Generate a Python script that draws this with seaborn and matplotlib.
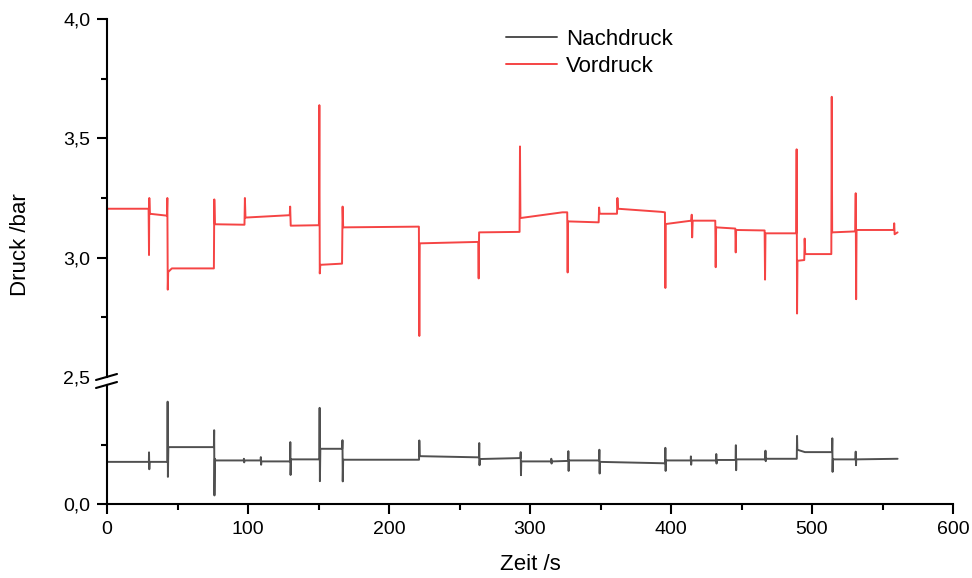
import matplotlib
matplotlib.use("Agg")
import matplotlib.pyplot as plt
from matplotlib.lines import Line2D
from matplotlib.ticker import FuncFormatter, FixedLocator
import pandas as pd
import seaborn as sns

# Vordruck (inlet pressure) over time: (time in s, pressure in bar)
t_vor = [0.0, 29.5, 29.8, 30.0, 30.3, 42.5, 42.8, 43.1, 43.4, 46.0, 75.8, 76.1, 76.5,
         97.5, 97.8, 98.2, 129.6, 129.9, 130.3, 150.3, 150.6, 150.9, 151.3, 166.7,
         167.1, 167.5, 221.2, 221.5, 221.8, 263.3, 263.6, 263.9, 292.6, 292.9, 293.2,
         323.0, 326.4, 326.7, 327.0, 348.7, 349.0, 349.4, 361.7, 362.0, 362.4, 393.0,
         395.7, 396.0, 396.3, 414.4, 414.7, 415.0, 415.4, 431.4, 431.7, 432.0, 445.6,
         445.9, 446.2, 466.4, 466.7, 467.0, 488.8, 489.1, 489.4, 489.7, 494.5, 494.8,
         495.2, 513.7, 514.0, 514.3, 530.7, 531.0, 531.3, 531.6, 558.0, 558.3, 558.6,
         560.7]
p_vor = [3.205, 3.205, 3.011, 3.250, 3.184, 3.176, 3.250, 2.866, 2.940, 2.955, 2.955,
         3.244, 3.140, 3.138, 3.250, 3.168, 3.178, 3.214, 3.134, 3.136, 3.639, 2.934,
         2.970, 2.975, 3.214, 3.127, 3.130, 2.672, 3.060, 3.066, 2.913, 3.106, 3.108,
         3.466, 3.166, 3.190, 3.190, 2.938, 3.152, 3.148, 3.210, 3.184, 3.184, 3.250,
         3.205, 3.192, 3.190, 2.873, 3.141, 3.155, 3.180, 3.085, 3.155, 3.155, 2.960,
         3.127, 3.122, 3.022, 3.116, 3.114, 2.908, 3.102, 3.102, 3.454, 2.766, 2.987,
         2.990, 3.080, 3.015, 3.015, 3.674, 3.106, 3.110, 3.270, 2.826, 3.116, 3.116,
         3.144, 3.098, 3.106]

# Nachdruck (outlet pressure) over time: (time in s, pressure in bar)
t_nach = [0.0, 29.7, 29.8, 30.0, 30.2, 42.8, 43.0, 43.2, 43.5, 75.8, 76.0, 76.2, 76.5,
          77.0, 97.0, 97.1, 97.3, 97.5, 109.0, 109.1, 109.3, 109.5, 129.8, 130.0, 130.2,
          130.5, 150.6, 150.8, 151.0, 151.3, 166.8, 167.0, 167.2, 167.5, 221.3, 221.5,
          221.8, 263.8, 264.0, 264.2, 264.4, 293.2, 293.4, 293.6, 293.8, 315.0, 315.1,
          315.3, 315.5, 327.0, 327.2, 327.4, 327.6, 349.0, 349.2, 349.4, 349.6, 395.8,
          396.0, 396.2, 396.4, 414.0, 414.1, 414.3, 414.5, 432.0, 432.1, 432.3, 432.5,
          445.8, 446.0, 446.2, 446.4, 466.8, 467.0, 467.2, 467.4, 489.2, 489.4, 489.6,
          495.0, 514.2, 514.4, 514.6, 514.8, 530.8, 531.0, 531.2, 531.4, 560.7]
p_nach = [0.177, 0.177, 0.217, 0.146, 0.177, 0.177, 0.430, 0.114, 0.239, 0.239, 0.310,
          0.036, 0.190, 0.183, 0.183, 0.190, 0.175, 0.183, 0.183, 0.197, 0.165, 0.179,
          0.179, 0.260, 0.122, 0.1875, 0.1875, 0.404, 0.096, 0.232, 0.232, 0.268, 0.095,
          0.186, 0.186, 0.267, 0.201, 0.196, 0.256, 0.163, 0.189, 0.193, 0.218, 0.121,
          0.179, 0.179, 0.190, 0.170, 0.179, 0.181, 0.222, 0.139, 0.183, 0.183, 0.228,
          0.128, 0.177, 0.171, 0.236, 0.139, 0.183, 0.183, 0.200, 0.165, 0.183, 0.183,
          0.210, 0.170, 0.185, 0.185, 0.247, 0.142, 0.1875, 0.1875, 0.224, 0.180, 0.190,
          0.190, 0.286, 0.228, 0.218, 0.218, 0.276, 0.135, 0.1875, 0.1875, 0.220, 0.163,
          0.1875, 0.190]

x_ticks = [0, 100, 200, 300, 400, 500, 600]
y_ticks_high = [2.5, 3.0, 3.5, 4.0]
y_ticks_low = [0.0]

df_vor = pd.DataFrame({"Zeit": t_vor, "Druck": p_vor})
df_nach = pd.DataFrame({"Zeit": t_nach, "Druck": p_nach})

sns.set_theme(style="ticks")
plt.rcParams["font.family"] = ["Liberation Sans", "DejaVu Sans"]
plt.rcParams["text.color"] = "black"
plt.rcParams["axes.edgecolor"] = "black"

RED = "#F54444"
GREY = "#505050"
W, H = 972, 578

fig = plt.figure(figsize=(W / 100, H / 100), dpi=100)
ax_hi = fig.add_axes([107 / W, 1 - 377 / H, 846 / W, (377 - 19) / H])
ax_lo = fig.add_axes([107 / W, 1 - 504 / H, 846 / W, (504 - 385) / H])

sns.lineplot(data=df_vor, x="Zeit", y="Druck", ax=ax_hi, color=RED, lw=1.4,
             estimator=None, sort=False)
sns.lineplot(data=df_nach, x="Zeit", y="Druck", ax=ax_lo, color=GREY, lw=1.4,
             estimator=None, sort=False)

comma = FuncFormatter(lambda v, _: f"{v:.1f}".replace(".", ","))

for ax in (ax_hi, ax_lo):
    ax.set_xlim(0, 600)
    ax.set_xlabel("")
    ax.set_ylabel("")
    ax.spines["right"].set_visible(False)
    ax.spines["top"].set_visible(False)
    ax.spines["left"].set_linewidth(1.5)
    ax.spines["bottom"].set_linewidth(1.5)
    ax.spines["left"].set_color("black")
    ax.spines["bottom"].set_color("black")
    ax.tick_params(which="major", direction="out", length=7, width=1.5,
                   labelsize=14, colors="black", pad=5)
    ax.tick_params(which="minor", direction="out", length=4, width=1.5,
                   colors="black")
    ax.yaxis.set_major_formatter(comma)
    ax.patch.set_alpha(0)

# upper segment: 2.5 .. 4.0 bar
ax_hi.set_ylim(2.5, 4.0)
ax_hi.yaxis.set_major_locator(FixedLocator(y_ticks_high))
ax_hi.yaxis.set_minor_locator(FixedLocator([2.75, 3.25, 3.75]))
ax_hi.spines["bottom"].set_visible(False)
ax_hi.tick_params(axis="x", which="both", bottom=False, labelbottom=False)
ax_hi.yaxis.get_major_ticks()[0].tick1line.set_visible(False)

# lower segment: 0 .. 0.5 bar
ax_lo.set_ylim(0, 0.5)
ax_lo.yaxis.set_major_locator(FixedLocator(y_ticks_low))
ax_lo.yaxis.set_minor_locator(FixedLocator([0.25]))
ax_lo.xaxis.set_major_locator(FixedLocator(x_ticks))
ax_lo.xaxis.set_minor_locator(FixedLocator([50, 150, 250, 350, 450, 550]))
ax_lo.set_xticklabels([str(v) for v in x_ticks])

# axis break marks on the y spine
def px(x, y):
    return x / W, 1 - y / H

for y0 in (380, 388):
    (x1, y1), (x2, y2) = px(96, y0), px(117, y0 - 6)
    fig.add_artist(Line2D([x1, x2], [y1, y2], transform=fig.transFigure,
                          color="black", lw=1.5))

fig.text(530 / W, 1 - 565 / H, "Zeit /s", ha="center", va="center", fontsize=16)
fig.text(21 / W, 1 - 245 / H, "Druck /bar", ha="center", va="center",
         rotation=90, fontsize=16)

handles = [Line2D([], [], color=GREY, lw=1.4), Line2D([], [], color=RED, lw=1.4)]
fig.legend(handles, ["Nachdruck", "Vordruck"], loc="upper left",
           bbox_to_anchor=(486 / W, 1 - 9 / H), frameon=False, fontsize=16,
           handlelength=2.3, handletextpad=0.4, labelspacing=0.25)

fig.savefig("out.png", dpi=100)
